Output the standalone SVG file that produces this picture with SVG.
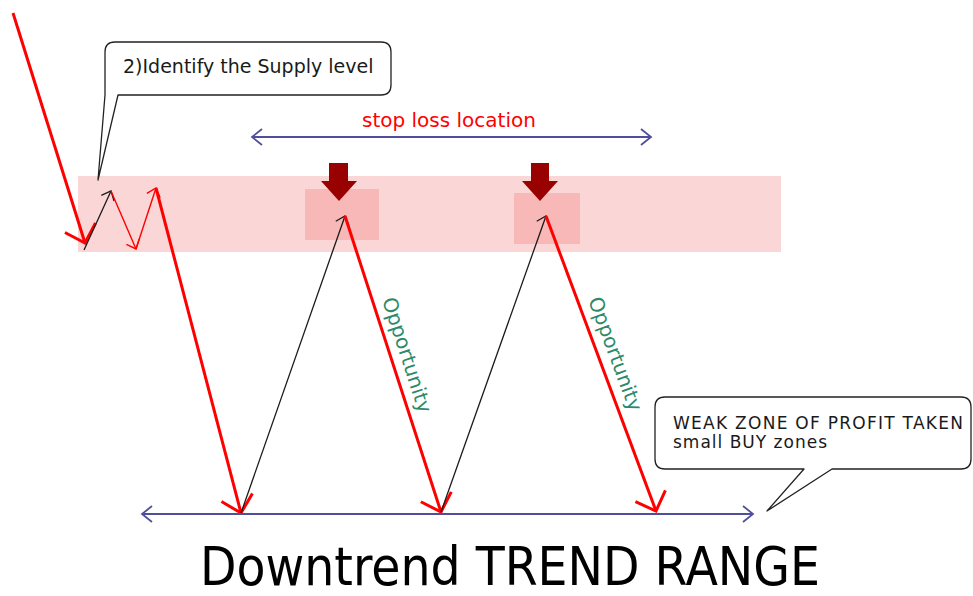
<svg xmlns="http://www.w3.org/2000/svg" width="973" height="596" viewBox="0 0 973 596">
<style>
.thick{stroke:#ff0000;stroke-width:3;fill:none;marker-end:url(#redHead)}
.thinr{stroke:#ff0000;stroke-width:1.4;fill:none;marker-end:url(#redSmall)}
.thinb{stroke:#1a1a1a;stroke-width:1.3;fill:none;marker-end:url(#blackSmall)}
.span{stroke:#4f4f9c;stroke-width:2;fill:none;marker-start:url(#navyHead);marker-end:url(#navyHead)}
.bubble{fill:#ffffff;stroke:#222222;stroke-width:1.3;stroke-linejoin:round}
.txt{font-family:"DejaVu Sans","Liberation Sans",sans-serif}
.opp{font-family:"DejaVu Sans","Liberation Sans",sans-serif;font-size:20px;fill:#2b8a68}
.dn{fill:#990000}
</style>
<defs>
<marker id="redHead" markerUnits="userSpaceOnUse" viewBox="-20 -20 40 40" refX="0" refY="0" markerWidth="40" markerHeight="40" orient="auto">
<path d="M-16,-16 L0,0 L-16,16" fill="none" stroke="#ff0000" stroke-width="3"/>
</marker>
<marker id="redSmall" markerUnits="userSpaceOnUse" viewBox="-12 -12 24 24" refX="0" refY="0" markerWidth="24" markerHeight="24" orient="auto">
<path d="M-8,-7 L0,0 L-8,7" fill="none" stroke="#ff0000" stroke-width="1.4"/>
</marker>
<marker id="blackSmall" markerUnits="userSpaceOnUse" viewBox="-12 -12 24 24" refX="0" refY="0" markerWidth="24" markerHeight="24" orient="auto">
<path d="M-8,-7 L0,0 L-8,7" fill="none" stroke="#1a1a1a" stroke-width="1.3"/>
</marker>
<marker id="navyHead" markerUnits="userSpaceOnUse" viewBox="-12 -12 24 24" refX="0" refY="0" markerWidth="24" markerHeight="24" orient="auto-start-reverse">
<path d="M-10,-8 L0,0 L-10,8" fill="none" stroke="#4f4f9c" stroke-width="1.8"/>
</marker>
</defs>
<rect width="973" height="596" fill="#ffffff"/>

<g id="supply-zone">
<rect x="78" y="176" width="703" height="76" fill="#fbd6d6"/>
</g>
<g id="stop-box-1">
<rect x="305" y="189" width="74" height="51" fill="#f8b8b8"/>
<path class="dn" d="M329,163 H348 V181 H357 L339,201 L321,181 H329 Z"/>
</g>
<g id="stop-box-2">
<rect x="514" y="193" width="66" height="51" fill="#f8b8b8"/>
<path class="dn" d="M531,163 H549 V181 H558 L540,201 L522,181 H531 Z"/>
</g>

<g id="connectors">
<line class="thick" x1="13" y1="13" x2="85" y2="243"/>
<line class="thinb" x1="84" y1="250" x2="111" y2="191"/>
<line class="thinr" x1="111" y1="191" x2="136" y2="249"/>
<line class="thinr" x1="136" y1="249" x2="156" y2="188"/>
<line class="thick" x1="156" y1="188" x2="241" y2="513"/>
<line class="thinb" x1="241" y1="513" x2="345" y2="216"/>
<line class="thick" x1="345" y1="216" x2="441" y2="512"/>
<line class="thinb" x1="441" y1="512" x2="546" y2="216"/>
<line class="thick" x1="546" y1="216" x2="656" y2="511"/>
<line class="span" x1="252" y1="137" x2="651" y2="137"/>
<line class="span" x1="142" y1="514" x2="753" y2="514"/>
</g>

<g id="stop-loss-label">
<text class="txt" x="362" y="127" font-size="20" fill="#ff0000">stop loss location</text>
</g>

<g id="callout-supply">
<path class="bubble" d="M118,95 L381,95 Q391,95 391,85 L391,52 Q391,42 381,42 L115,42 Q105,42 105,52 L105,95 L98,180 Z"/>
<text class="txt" x="123" y="73" font-size="19" fill="#1a1a1a">2)Identify the Supply level</text>
</g>

<g id="callout-weak">
<path class="bubble" d="M665,397 L961,397 Q971,397 971,407 L971,459 Q971,469 961,469 L832,469 L767,511 L804,469 L665,469 Q655,469 655,459 L655,407 Q655,397 665,397 Z"/>
<text class="txt" x="673" y="429" font-size="17" fill="#1a1a1a" textLength="290" lengthAdjust="spacing">WEAK ZONE OF PROFIT TAKEN</text>
<text class="txt" x="673" y="448" font-size="17" fill="#1a1a1a" textLength="154" lengthAdjust="spacing">small BUY zones</text>
</g>

<g id="opportunity-1">
<text class="opp" transform="translate(382,300) rotate(72)">Opportunity</text>
</g>
<g id="opportunity-2">
<text class="opp" transform="translate(588,300) rotate(69.6)">Opportunity</text>
</g>

<g id="title">
<text x="200" y="585" font-family="'DejaVu Sans Condensed','DejaVu Sans',sans-serif" font-stretch="condensed" font-size="53" fill="#000000" textLength="620" lengthAdjust="spacingAndGlyphs">Downtrend TREND RANGE</text>
</g>
</svg>
